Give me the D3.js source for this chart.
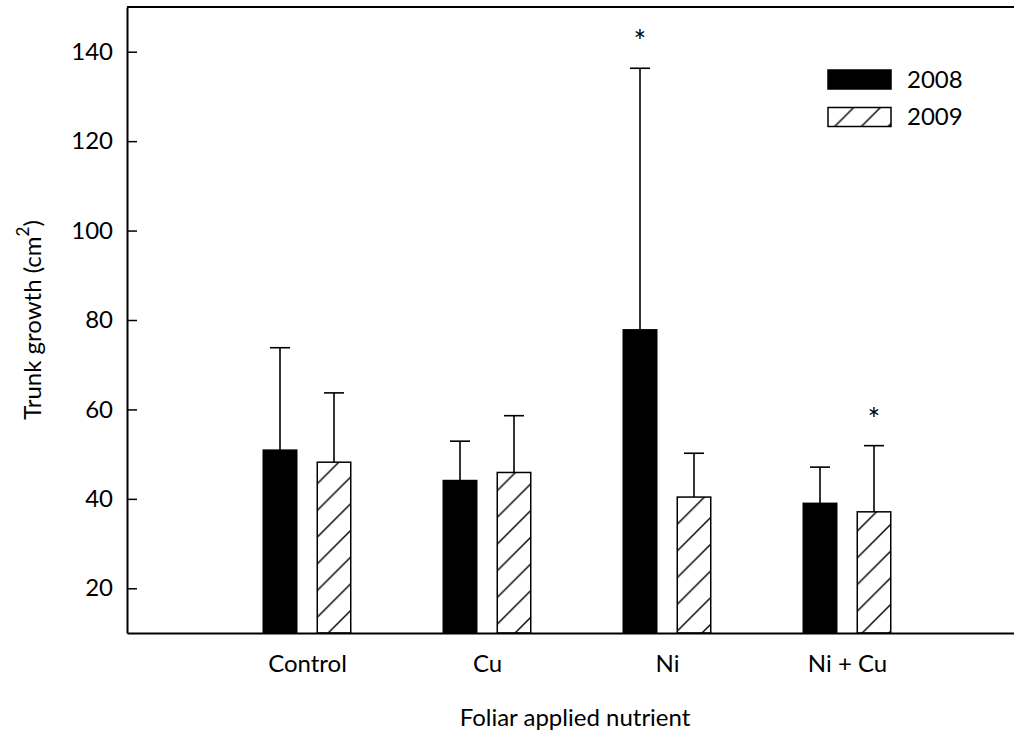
<!DOCTYPE html>
<html>
<head>
<meta charset="utf-8">
<script src="https://cdn.jsdelivr.net/npm/d3@7"></script>
<style>
  body { margin: 0; background: #fff; }
  svg { display: block; font-family: Lato, "Open Sans", sans-serif; }
</style>
</head>
<body>
<svg id="chart" width="1014" height="736"></svg>
<script>
const categories = ["Control", "Cu", "Ni", "Ni + Cu"];
const years = ["2008", "2009"];
const mean2008 = [50.9, 44.1, 77.8, 39.0];
const se2008 = [22.9, 8.8, 58.5, 8.1];
const mean2009 = [48.2, 45.9, 40.4, 37.1];
const se2009 = [15.5, 12.7, 9.8, 14.8];
const sig2008 = [false, false, true, false];
const sig2009 = [false, false, false, true];
const yTicks = [20, 40, 60, 80, 100, 120, 140];

const svg = d3.select("#chart");

// axis frame: categories sit at 1..4 on a 0..5 scale (right end is cropped)
const x = d3.scaleLinear().domain([0, 5]).range([127, 1027]);
const y = d3.scaleLinear().domain([10, 150]).range([633, 7]);

const defs = svg.append("defs");
const pat = defs.append("pattern")
    .attr("id", "hatch")
    .attr("patternUnits", "userSpaceOnUse")
    .attr("width", 26.7).attr("height", 26.7);
pat.append("rect").attr("width", 26.7).attr("height", 26.7).attr("fill", "#fff");
pat.append("path")
    .attr("d", "M-2,28.7 L28.7,-2 M-2,2 L2,-2 M24.7,28.7 L28.7,24.7")
    .attr("stroke", "#000").attr("stroke-width", 1.4);

const off = 0.15, bw = 0.186;
const series = [
    { year: years[0], mean: mean2008, se: se2008, sig: sig2008, dx: -off, fill: "#000" },
    { year: years[1], mean: mean2009, se: se2009, sig: sig2009, dx: off, fill: "url(#hatch)" }
];
const barW = x(bw) - x(0);

series.forEach(s => {
    const g = svg.append("g");
    const rows = categories.map((c, i) => ({ i, m: s.mean[i], e: s.se[i], sig: s.sig[i] }));

    // error bars (upper only)
    g.selectAll("line.err").data(rows).enter().append("line")
        .attr("x1", d => x(d.i + 1 + s.dx)).attr("x2", d => x(d.i + 1 + s.dx))
        .attr("y1", d => y(d.m)).attr("y2", d => y(d.m + d.e))
        .attr("stroke", "#000").attr("stroke-width", 1.6);
    g.selectAll("line.cap").data(rows).enter().append("line")
        .attr("x1", d => x(d.i + 1 + s.dx) - 10).attr("x2", d => x(d.i + 1 + s.dx) + 10)
        .attr("y1", d => y(d.m + d.e)).attr("y2", d => y(d.m + d.e))
        .attr("stroke", "#000").attr("stroke-width", 1.6);

    g.selectAll("rect").data(rows).enter().append("rect")
        .attr("x", d => x(d.i + 1 + s.dx) - barW / 2)
        .attr("y", d => y(d.m))
        .attr("width", barW)
        .attr("height", d => y(10) - y(d.m))
        .attr("fill", s.fill)
        .attr("stroke", "#000").attr("stroke-width", 1.5);

    g.selectAll("text.star").data(rows.filter(d => d.sig)).enter().append("text")
        .attr("x", d => x(d.i + 1 + s.dx))
        .attr("y", d => y(d.m + d.e) - 16)
        .attr("text-anchor", "middle")
        .attr("font-size", 30)
        .text("*");
});

// axes
svg.append("line").attr("x1", 127).attr("x2", 1014).attr("y1", 7).attr("y2", 7)
    .attr("stroke", "#000").attr("stroke-width", 2);
const yAxis = svg.append("g").attr("transform", "translate(127,0)")
    .call(d3.axisLeft(y).tickValues(yTicks).tickSize(-10).tickPadding(14).tickSizeOuter(0));
yAxis.select(".domain").attr("stroke-width", 2);
yAxis.selectAll(".tick line").attr("stroke-width", 1.5);
yAxis.selectAll("text").attr("font-size", 24).attr("font-family", "Lato").attr("fill", "#000");

const xAxis = svg.append("g").attr("transform", "translate(0,633)")
    .call(d3.axisBottom(x).tickValues(categories.map((c, i) => i + 1))
        .tickFormat(d => categories[d - 1]).tickSize(0).tickPadding(22).tickSizeOuter(0));
xAxis.select(".domain").attr("stroke-width", 2);
xAxis.selectAll("text").attr("font-size", 24).attr("font-family", "Lato").attr("fill", "#000");

// titles
svg.append("text")
    .attr("x", 575).attr("y", 726)
    .attr("text-anchor", "middle").attr("font-size", 24)
    .text("Foliar applied nutrient");

const yt = svg.append("text")
    .attr("transform", "translate(41,320) rotate(-90)")
    .attr("text-anchor", "middle").attr("font-size", 24);
yt.append("tspan").text("Trunk growth (cm");
yt.append("tspan").attr("dy", -12).attr("font-size", 17).text("2");
yt.append("tspan").attr("dy", 12).text(")");

// legend
const leg = svg.append("g");
series.forEach((s, k) => {
    leg.append("rect")
        .attr("x", 828).attr("y", 70 + k * 37.5)
        .attr("width", 63).attr("height", 19)
        .attr("fill", s.fill).attr("stroke", "#000").attr("stroke-width", 1.5);
    leg.append("text")
        .attr("x", 907).attr("y", 79.5 + k * 37.5)
        .attr("dy", "0.35em").attr("font-size", 24)
        .text(s.year);
});
</script>
</body>
</html>
